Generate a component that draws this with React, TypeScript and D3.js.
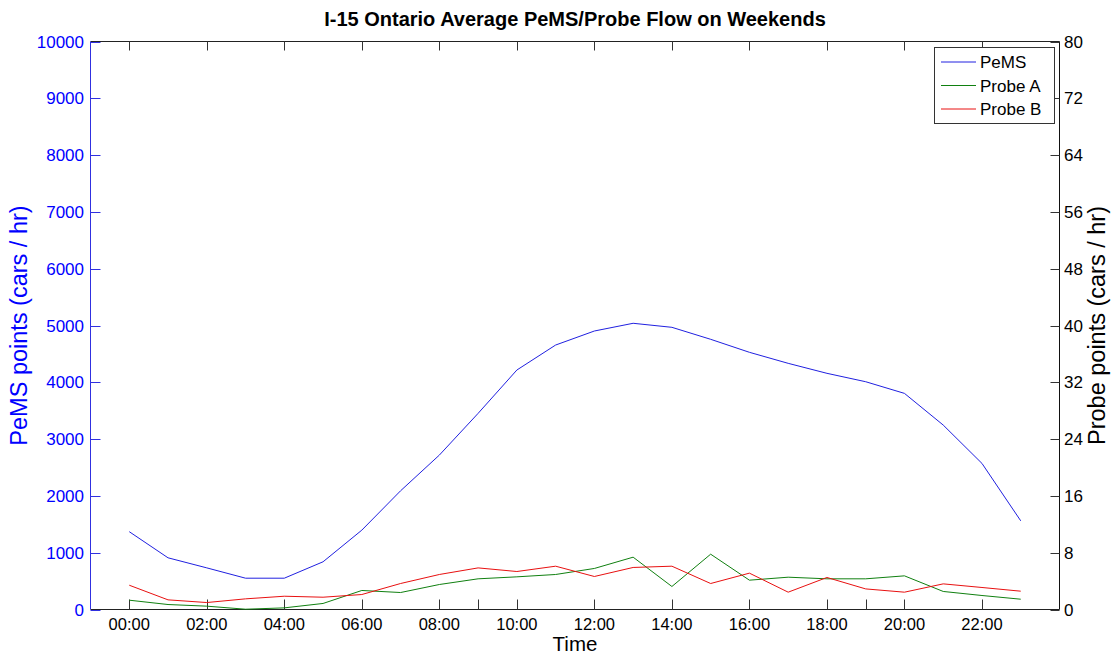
import React from "react";
import * as d3 from "d3";

const hours = d3.range(0, 24);
const pems = [1370, 910, 733, 551, 551, 840, 1397, 2090, 2718, 3453, 4216, 4656, 4903, 5039, 4968, 4757, 4528, 4334, 4158, 4010, 3805, 3247, 2572, 1561];
const probeA = [1.31, 0.7, 0.47, 0.04, 0.23, 0.85, 2.68, 2.39, 3.52, 4.32, 4.6, 4.93, 5.78, 7.37, 3.24, 7.79, 4.13, 4.55, 4.32, 4.32, 4.74, 2.54, 1.97, 1.45];
const probeB = [3.42, 1.36, 0.98, 1.5, 1.87, 1.73, 2.11, 3.66, 4.93, 5.86, 5.35, 6.1, 4.65, 5.92, 6.1, 3.66, 5.12, 2.44, 4.51, 2.9, 2.44, 3.61, 3.1, 2.58];
const xTicks = d3.range(0, 23, 2);
const xExtraTicks = [9, 19];
const leftTicks = d3.range(0, 10001, 1000);
const rightTicks = d3.range(0, 81, 8);
const seriesNames = ["PeMS", "Probe A", "Probe B"];
const seriesColors = ["#2020e0", "#108010", "#e81010"];

const W = 1112, H = 656;
const L = 90.5, R = 1059.5, T = 41.5, B = 609.5;
const font = "Liberation Sans, Arial, sans-serif";

const fmt = (h: number) => (h < 10 ? "0" + h : "" + h) + ":00";

export default function App() {
  const x = d3.scaleLinear().domain([-1, 24]).range([L, R]);
  const yL = d3.scaleLinear().domain([0, 10000]).range([B, T]);
  const yR = d3.scaleLinear().domain([0, 80]).range([B, T]);
  const lineL = d3.line<number>().x((_, i) => x(hours[i])).y((d) => yL(d));
  const lineR = d3.line<number>().x((_, i) => x(hours[i])).y((d) => yR(d));
  const paths = [lineL(pems), lineR(probeA), lineR(probeB)];
  const lx1 = 941, lx2 = 976, ly = [62, 85.5, 109];
  return (
    <svg width={W} height={H} style={{ position: "absolute", left: 0, top: 0, background: "#fff" }} fontFamily={font}>
      <rect x={0} y={0} width={W} height={H} fill="#fff" />
      <line x1={L} x2={R} y1={T} y2={T} stroke="#222" strokeWidth={1} />
      <line x1={L} x2={R} y1={B} y2={B} stroke="#222" strokeWidth={1} />
      {xTicks.map((t) => (
        <g key={"xt" + t}>
          <line x1={Math.round(x(t)) + 0.5} x2={Math.round(x(t)) + 0.5} y1={B} y2={B - 10} stroke="#333" />
          <line x1={Math.round(x(t)) + 0.5} x2={Math.round(x(t)) + 0.5} y1={T} y2={T + 9} stroke="#333" />
          <text x={x(t)} y={630} textAnchor="middle" fontSize={16.5} fill="#000">{fmt(t)}</text>
        </g>
      ))}
      {xExtraTicks.map((t) => (
        <line key={"xe" + t} x1={Math.round(x(t)) + 0.5} x2={Math.round(x(t)) + 0.5} y1={B} y2={B - 10} stroke="#333" />
      ))}
      <line x1={L} x2={L} y1={T} y2={B} stroke="#3030e0" />
      {leftTicks.map((t) => (
        <g key={"l" + t}>
          <line x1={L} x2={L + 10} y1={Math.round(yL(t)) + 0.5} y2={Math.round(yL(t)) + 0.5} stroke="#3030e0" />
          <text x={84} y={yL(t) + 6} textAnchor="end" fontSize={17} fill="#0000ff">{t}</text>
        </g>
      ))}
      <line x1={R} x2={R} y1={T} y2={B} stroke="#111" />
      {rightTicks.map((t) => (
        <g key={"r" + t}>
          <line x1={R - 9} x2={R} y1={Math.round(yR(t)) + 0.5} y2={Math.round(yR(t)) + 0.5} stroke="#333" />
          <text x={1064} y={yR(t) + 6} textAnchor="start" fontSize={17} fill="#000">{t}</text>
        </g>
      ))}
      {paths.map((p, i) => (
        <path key={"p" + i} d={p || ""} fill="none" stroke={seriesColors[i]} strokeWidth={1} />
      ))}
      <text x={(L + R) / 2} y={26} textAnchor="middle" fontSize={20} fontWeight="bold" fill="#000">I-15 Ontario Average PeMS/Probe Flow on Weekends</text>
      <text x={(L + R) / 2} y={651} textAnchor="middle" fontSize={20.5} fill="#000">Time</text>
      <text transform={`translate(27,${(T + B) / 2}) rotate(-90)`} textAnchor="middle" fontSize={23.5} fill="#0000ff">PeMS points (cars / hr)</text>
      <text transform={`translate(1105,${(T + B) / 2}) rotate(-90)`} textAnchor="middle" fontSize={23.5} fill="#000">Probe points (cars / hr)</text>
      <rect x={934.5} y={47.5} width={120} height={76} fill="#fff" stroke="#333" />
      {seriesNames.map((n, i) => (
        <g key={"lg" + i}>
          <line x1={lx1} x2={lx2} y1={ly[i]} y2={ly[i]} stroke={seriesColors[i]} />
          <text x={980} y={ly[i] + 6} fontSize={17} fill="#000">{n}</text>
        </g>
      ))}
    </svg>
  );
}
